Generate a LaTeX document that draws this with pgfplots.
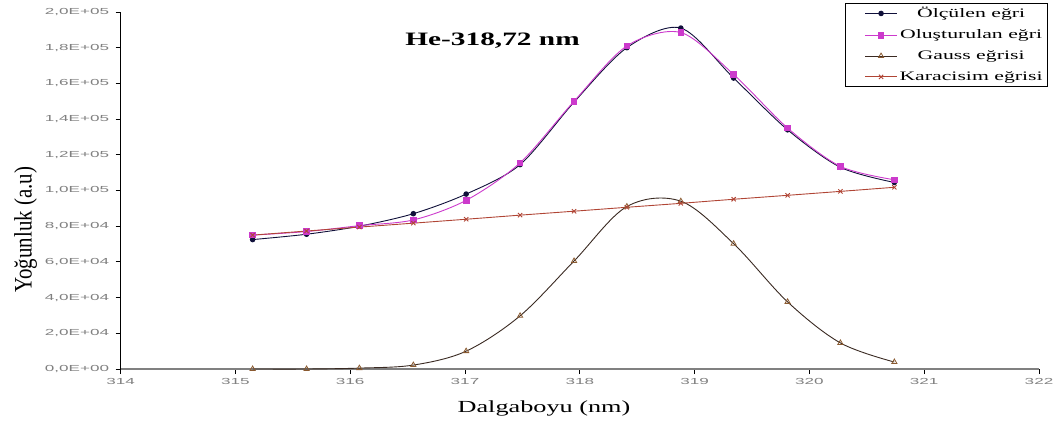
\documentclass[border=0pt]{standalone}
\usepackage{fontspec}
\setmainfont{Liberation Serif}
\newfontfamily\tickfont{Liberation Sans}
\usepackage{pgfplots}
\pgfplotsset{compat=1.18}
\definecolor{measc}{HTML}{10103A}
\definecolor{genc}{HTML}{CC3ACC}
\definecolor{gaussc}{HTML}{3A2A22}
\definecolor{gaussm}{HTML}{8A5A30}
\definecolor{bbc}{HTML}{B04535}
\definecolor{tickc}{HTML}{808080}
\newcommand{\sx}[1]{\scalebox{1.55}[1]{#1}}
\newcommand{\lx}[1]{\scalebox{1.68}[1]{#1}}
\newcommand{\tx}[1]{\scalebox{1.95}[1]{\tickfont #1}}
\begin{document}
\begin{tikzpicture}
\path[use as bounding box] (0,0) rectangle (1057bp,425bp);
\begin{axis}[
  at={(120.6bp,56bp)}, anchor=south west,
  width=918.4bp, height=357bp, scale only axis,
  xmin=314, xmax=322, ymin=0, ymax=200000,
  scaled y ticks=false, scaled x ticks=false,
  axis x line=bottom, axis y line=left,
  x axis line style={-, line width=1.8bp, draw=tickc},
  y axis line style={-, line width=1.6bp, draw=black},
  xtick={314,315,...,322},
  xticklabels={\tx{314},\tx{315},\tx{316},\tx{317},\tx{318},\tx{319},\tx{320},\tx{321},\tx{322}},
  ytick={0,20000,...,200000},
  yticklabels={\tx{0,0E+00},\tx{2,0E+04},\tx{4,0E+04},\tx{6,0E+04},\tx{8,0E+04},\tx{1,0E+05},\tx{1,2E+05},\tx{1,4E+05},\tx{1,6E+05},\tx{1,8E+05},\tx{2,0E+05}},
  tick align=outside,
  major tick length=5bp,
  tick style={line width=0.8bp, draw=black},
  ticklabel style={font=\fontsize{8.8}{10}\selectfont, text=tickc},
  yticklabel style={xshift=-3bp},
  xticklabel style={yshift=-1bp},
  xlabel={\sx{Dalgaboyu (nm)}},
  ylabel={\scalebox{1}[1.2]{Yoğunluk (a.u)}},
  every axis x label/.style={at={(rel axis cs:0.461,0)}, yshift=-39bp, anchor=center, font=\fontsize{17}{20}\selectfont},
  every axis y label/.style={at={(rel axis cs:0,0.39)}, xshift=-95bp, rotate=90, anchor=center, font=\fontsize{21}{24}\selectfont},
  legend style={at={(rel axis cs:0.789,1.025)}, anchor=north west, draw=black, line width=0.8bp,
    font=\fontsize{13}{15}\selectfont, row sep=6.5bp, inner xsep=3bp, inner ysep=2bp},
  legend cell align=center,
  legend image code/.code={\path (-16bp,0) (32bp,0); \draw[mark repeat=2,mark phase=2] plot coordinates {(0bp,0bp) (16bp,0bp) (32bp,0bp)};},
  clip=false,
]
\addplot[measc, line width=0.9bp, smooth, tension=0.5, mark=*, mark size=2.3bp, mark options={fill=measc, draw=measc}] coordinates {
(315.15,72500) (315.62,75500) (316.08,80000) (316.55,87000) (317.01,98000) (317.48,114500) (317.95,149500) (318.41,180000) (318.88,191000) (319.34,163000) (319.81,134000) (320.27,113000) (320.74,104500)};
\addlegendentry{\lx{Ölçülen eğri}}
\addplot[genc, line width=0.9bp, smooth, tension=0.5, mark=square*, mark size=2.8bp, mark options={fill=genc, draw=genc}] coordinates {
(315.15,75000) (315.62,77000) (316.08,80300) (316.55,83500) (317.01,94500) (317.48,115500) (317.95,150000) (318.41,181000) (318.88,188500) (319.34,165000) (319.81,135000) (320.27,113500) (320.74,106000)};
\addlegendentry{\lx{Oluşturulan eğri}}
\addplot[gaussc, line width=0.9bp, smooth, tension=0.55, mark=triangle, mark size=3bp, mark options={draw=gaussm, fill=white, line width=0.8bp}] coordinates {
(315.15,0) (315.62,0) (316.08,500) (316.55,2200) (317.01,10000) (317.48,29800) (317.95,60500) (318.41,91000) (318.88,94000) (319.34,70200) (319.81,37600) (320.27,14600) (320.74,3900)};
\addlegendentry{\lx{Gauss eğrisi}}
\addplot[bbc, line width=0.9bp, mark=x, mark size=3bp, mark options={draw=bbc}] coordinates {
(315.15,75000) (315.62,77300) (316.08,79500) (316.55,81700) (317.01,83900) (317.48,86200) (317.95,88400) (318.41,90600) (318.88,92800) (319.34,95100) (319.81,97300) (320.27,99500) (320.74,101800)};
\addlegendentry{\lx{Karacisim eğrisi}}
\node[font=\bfseries\fontsize{19}{22}\selectfont] at (axis cs:317.24,183800) {\sx{He-318,72 nm}};
\end{axis}
\end{tikzpicture}
\end{document}
